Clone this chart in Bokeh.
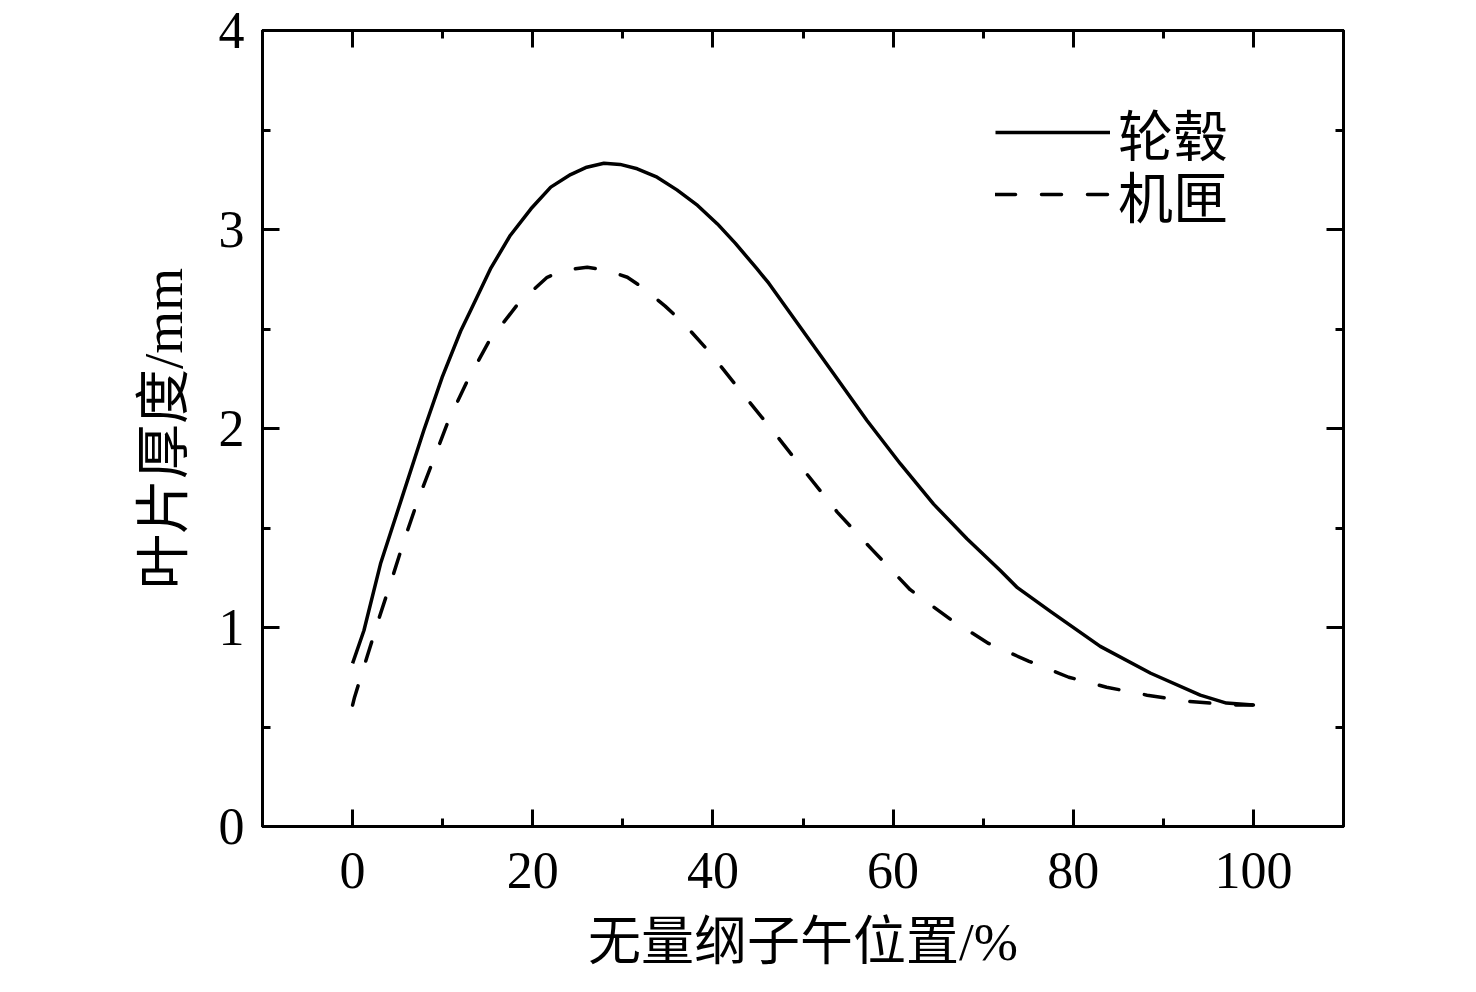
from bokeh.plotting import figure
from bokeh.models import (LinearAxis, SingleIntervalTicker, Range1d, Legend, LegendItem,
                          CustomJSTickFormatter)
from bokeh.embed import file_html
from bokeh.resources import INLINE

# ---- data ----
hub_x = [0, 1.26, 3.1, 5.5, 7.9, 9.95, 12.0, 13.1, 15.3, 17.5, 19.8, 22.0, 24.2, 26.0, 27.9,
         29.7, 31.6, 33.8, 36.0, 38.3, 40.5, 42.5, 44.9, 46.2, 49.7, 53.4, 57.1, 60.8, 64.5,
         68.2, 71.9, 73.8, 77.5, 83.0, 88.6, 94.1, 97.0, 100]
hub_y = [0.82, 0.985, 1.32, 1.655, 1.99, 2.258, 2.49, 2.593, 2.802, 2.97, 3.104, 3.213, 3.276,
         3.313, 3.333, 3.327, 3.305, 3.263, 3.199, 3.121, 3.028, 2.93, 2.802, 2.73, 2.509, 2.275,
         2.04, 1.823, 1.62, 1.446, 1.286, 1.2, 1.08, 0.905, 0.77, 0.66, 0.62, 0.61]

shroud_x = [0, 0.22, 1.59, 2.96, 4.37, 5.74, 7.25, 8.92, 10.62, 12.65, 15.1, 18.35, 21.6, 23.6,
            26.05, 28.1, 30.5, 32.3, 34.7, 36.8, 39.5, 43.4, 46.8, 50.1, 53.8, 57.7, 61.9, 66.4,
            70.6, 75.1, 79.5, 83.7, 88.2, 92.6, 97.8, 100]
shroud_y = [0.61, 0.65, 0.85, 1.05, 1.245, 1.44, 1.64, 1.836, 2.037, 2.231, 2.435, 2.626, 2.76,
            2.797, 2.81, 2.797, 2.76, 2.705, 2.615, 2.526, 2.39, 2.17, 1.98, 1.79, 1.58, 1.39,
            1.19, 1.04, 0.92, 0.83, 0.75, 0.70, 0.66, 0.63, 0.61, 0.61]

series_names = ["轮毂", "机匣"]
x_label = "无量纲子午位置/%"
y_label = "叶片厚度/mm"

FONT = "'Liberation Serif', 'Noto Sans CJK SC', serif"

p = figure(width=1460, height=976, output_backend="svg", toolbar_location=None,
           x_range=Range1d(-10, 110), y_range=Range1d(0, 4),
           min_border_left=262, min_border_right=117, min_border_top=30, min_border_bottom=150,
           x_axis_location=None, y_axis_location=None)
p.background_fill_color = "white"
p.border_fill_color = "white"
p.grid.visible = False
p.outline_line_color = "black"
p.outline_line_width = 3


def style_axis(ax, show_labels):
    ax.axis_line_width = 3
    ax.axis_line_color = "black"
    ax.major_tick_line_width = 3
    ax.minor_tick_line_width = 3
    ax.major_tick_in = 17
    ax.major_tick_out = 0
    ax.minor_tick_in = 8
    ax.minor_tick_out = 0
    ax.major_label_text_font = FONT
    ax.axis_label_text_font = FONT
    ax.axis_label_text_font_style = "normal"
    ax.axis_label_text_color = "black"
    ax.major_label_text_color = "black"
    if show_labels:
        ax.major_label_text_font_size = "52px"
        ax.axis_label_text_font_size = "55px"
    else:
        ax.formatter = CustomJSTickFormatter(code="return '';")
        ax.major_label_text_font_size = "10px"
        ax.major_label_standoff = 0


xb = LinearAxis(ticker=SingleIntervalTicker(interval=20, num_minor_ticks=2), axis_label=x_label)
style_axis(xb, True)
xb.axis_label_text_font_size = "53px"
xb.major_label_standoff = 26
xb.axis_label_standoff = 22
p.add_layout(xb, "below")

yl = LinearAxis(ticker=SingleIntervalTicker(interval=1, num_minor_ticks=2), axis_label=y_label)
style_axis(yl, True)
yl.major_label_standoff = 18
yl.axis_label_standoff = 22
p.add_layout(yl, "left")

xt = LinearAxis(ticker=SingleIntervalTicker(interval=20, num_minor_ticks=2))
style_axis(xt, False)
p.add_layout(xt, "above")

yr = LinearAxis(ticker=SingleIntervalTicker(interval=1, num_minor_ticks=2))
style_axis(yr, False)
p.add_layout(yr, "right")

r_hub = p.line(hub_x, hub_y, line_color="black", line_width=3.5, line_join="round")
r_shr = p.line(shroud_x, shroud_y, line_color="black", line_width=3.5, line_dash="20 26",
               line_cap="round", line_join="round")


def make_legend(label, rend, loc):
    lg = Legend(items=[LegendItem(label=label, renderers=[rend])], location=loc)
    lg.border_line_color = None
    lg.background_fill_alpha = 0
    lg.glyph_width = 115
    lg.glyph_height = 60
    lg.label_height = 60
    lg.spacing = 0
    lg.padding = 0
    lg.margin = 0
    lg.label_standoff = 8
    lg.label_text_font = FONT
    lg.label_text_font_size = "55px"
    lg.label_text_color = "black"
    return lg


p.add_layout(make_legend(series_names[0], r_hub, (733, 654)), "center")
p.add_layout(make_legend(series_names[1], r_shr, (733, 592)), "center")

open("out.html", "w").write(file_html(p, INLINE))
